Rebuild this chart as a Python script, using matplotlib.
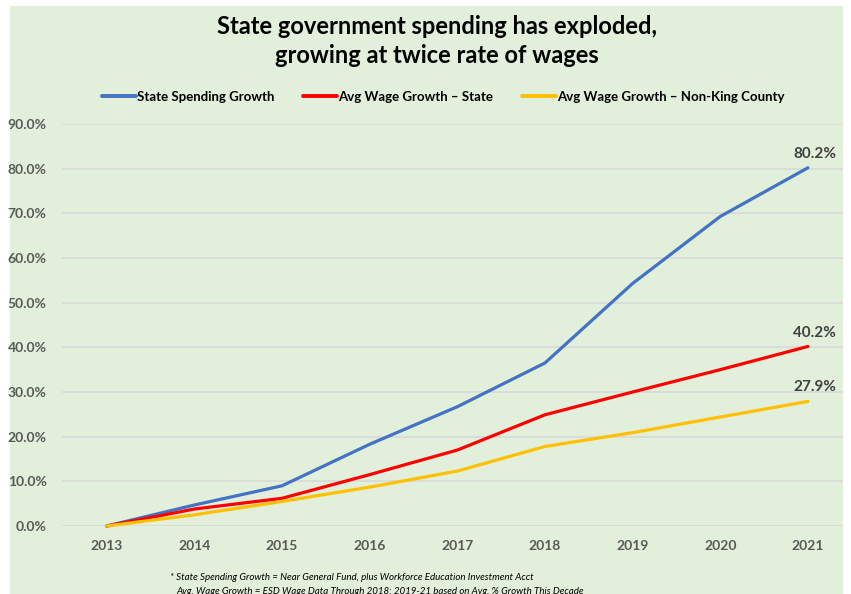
import matplotlib
matplotlib.use("Agg")
import matplotlib.pyplot as plt
from matplotlib.patches import Rectangle
from matplotlib.ticker import FuncFormatter

years = ["2013", "2014", "2015", "2016", "2017", "2018", "2019", "2020", "2021"]
state_spending = [0.0, 4.7, 9.0, 18.3, 26.7, 36.5, 54.3, 69.3, 80.2]
wage_state = [0.0, 3.8, 6.2, 11.5, 17.0, 24.9, 30.0, 35.0, 40.2]
wage_nonking = [0.0, 2.5, 5.5, 8.7, 12.3, 17.8, 20.9, 24.4, 27.9]
series_names = ["State Spending Growth", "Avg Wage Growth \u2013 State",
                "Avg Wage Growth \u2013 Non-King County"]
colors = ["#4472C4", "#FF0000", "#FFC000"]
title = "State government spending has exploded,\ngrowing at twice rate of wages"
foot1 = "* State Spending Growth = Near General Fund, plus Workforce Education Investment Acct"
foot2 = "Avg. Wage Growth = ESD Wage Data Through 2018; 2019-21 based on Avg. % Growth This Decade"

plt.rcParams['font.family'] = ['Lato', 'DejaVu Sans']

W, H = 851, 594
fig = plt.figure(figsize=(W / 100, H / 100), dpi=100)
fig.patch.set_facecolor("white")
bg = "#E2EFDA"
fig.patches.append(Rectangle((10 / W, 0), 833 / W, (H - 6) / H, transform=fig.transFigure,
                             facecolor=bg, edgecolor="none", zorder=-10))

ax = fig.add_axes([62 / W, (H - 526) / H, (843 - 62) / W, (526 - 124) / H])
ax.set_facecolor(bg)
ax.patch.set_alpha(0)

x = list(range(len(years)))
data = [state_spending, wage_state, wage_nonking]
lines = []
for vals, c, name in zip(data, colors, series_names):
    ln, = ax.plot(x, vals, color=c, lw=2.3, label=name, clip_on=False,
                  solid_capstyle="round", zorder=3)
    lines.append(ln)

for vals in data:
    ax.annotate(f"{vals[-1]:.1f}%", (x[-1], vals[-1]), xytext=(5, 10),
                textcoords="offset points", ha="center", va="center",
                fontsize=11, fontweight="bold", color="#404040")

ax.set_xlim(-0.51, 8.4)
ax.set_ylim(0, 90)
ax.set_yticks(range(0, 91, 10))
ax.yaxis.set_major_formatter(FuncFormatter(lambda v, p: f"{v:.1f}%"))
ax.set_xticks(x)
ax.set_xticklabels(years)
ax.grid(axis="y", color="#D9D9D9", lw=1.2, zorder=1)
ax.set_axisbelow(True)
for s in ax.spines.values():
    s.set_visible(False)
ax.tick_params(length=0)
ax.tick_params(axis="y", pad=11, labelsize=10, labelcolor="#595959")
ax.tick_params(axis="x", pad=10, labelsize=10, labelcolor="#595959")
for lab in ax.get_xticklabels() + ax.get_yticklabels():
    lab.set_fontweight("bold")

fig.text(437 / W, (H - 41) / H, title, ha="center", va="center", fontsize=17,
         fontweight="bold", color="black", linespacing=1.35)

leg = fig.legend(handles=lines, loc="center", bbox_to_anchor=(443 / W, (H - 97) / H),
                 ncol=3, frameon=False, fontsize=9.5, handlelength=2.6,
                 handletextpad=0.05, columnspacing=2.2)
for t in leg.get_texts():
    t.set_fontweight("bold")
for l in leg.get_lines():
    l.set_linewidth(2.8)

fig.text(170 / W, (H - 578) / H, foot1, ha="left", va="center", fontsize=7,
         style="italic", color="black")
fig.text(176 / W, (H - 591) / H, foot2, ha="left", va="center", fontsize=7,
         style="italic", color="black")

fig.savefig("out.png", dpi=100, facecolor="white")
